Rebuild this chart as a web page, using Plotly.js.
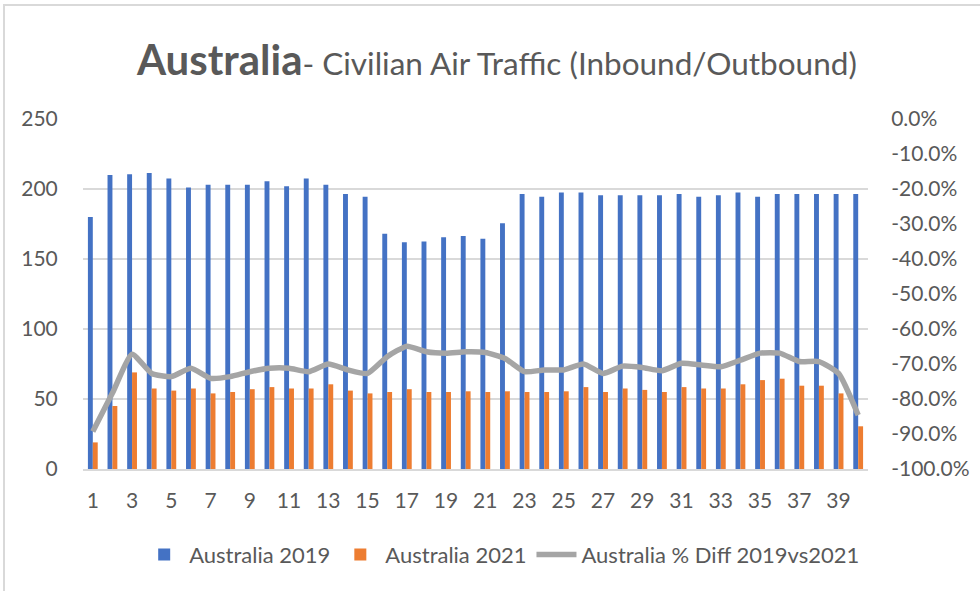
<!DOCTYPE html>
<html>
<head>
<meta charset="utf-8">
<script src="https://cdn.plot.ly/plotly-3.0.1.min.js"></script>
<style>
  html, body { margin: 0; padding: 0; background: #ffffff; }
  #frame { position: absolute; left: 3px; top: 4px; width: 977px; height: 587px;
           border-top: 2px solid #d9d9d9; border-left: 2px solid #d9d9d9; pointer-events: none; }
  #chart { width: 980px; height: 591px; }
</style>
</head>
<body>
<div id="chart"></div>
<div id="frame"></div>
<script>
const categories = Array.from({length: 40}, (_, i) => String(i + 1));
const tickLabels = ["1","3","5","7","9","11","13","15","17","19","21","23","25","27","29","31","33","35","37","39"];
const pctTickVals = [0, -0.1, -0.2, -0.3, -0.4, -0.5, -0.6, -0.7, -0.8, -0.9, -1.0];
const pctTickText = ["0.0%", "-10.0%", "-20.0%", "-30.0%", "-40.0%", "-50.0%", "-60.0%", "-70.0%", "-80.0%", "-90.0%", "-100.0%"];

const traffic2019 = [180, 210, 210.5, 211.5, 207.5, 201, 203, 203, 203, 205.5,
                     202, 207.5, 203, 196.5, 194.5, 168, 162, 162.5, 165.5, 166.5,
                     164.5, 175.5, 196.5, 194.5, 197.5, 197.5, 195.5, 195.5, 195.5, 195.5,
                     196.5, 194.5, 195.5, 197.5, 194.5, 196.5, 196.5, 196.5, 196.5, 196.5];

const traffic2021 = [19, 45, 69, 57.5, 56, 57.5, 54, 55, 57, 58.5,
                     57.5, 57.5, 60.5, 56, 54, 55, 57, 55, 55, 55.5,
                     55, 55.5, 55, 55, 55.5, 58.5, 55, 57.5, 56.5, 55,
                     58.5, 57.5, 57.5, 60.5, 63.5, 64.5, 59.5, 59.5, 54, 30.5];

const pctDiff = [-0.893, -0.783, -0.672, -0.727, -0.736, -0.712, -0.741, -0.736, -0.722, -0.712,
                 -0.712, -0.722, -0.700, -0.717, -0.727, -0.679, -0.649, -0.665, -0.669, -0.665,
                 -0.667, -0.684, -0.722, -0.717, -0.717, -0.700, -0.727, -0.706, -0.710, -0.719,
                 -0.698, -0.703, -0.708, -0.689, -0.669, -0.669, -0.693, -0.693, -0.727, -0.846];

const FONT = "Lato, 'Open Sans', sans-serif";
const TXT = "#595959";

const traces = [
  { type: "bar", name: "Australia 2019", x: categories, y: traffic2019,
    marker: { color: "#4472C4" }, hoverinfo: "skip" },
  { type: "bar", name: "Australia 2021", x: categories, y: traffic2021,
    marker: { color: "#ED7D31" }, hoverinfo: "skip" },
  { type: "scatter", mode: "lines", name: "Australia % Diff 2019vs2021", x: categories, y: pctDiff,
    yaxis: "y2", line: { color: "#A5A5A5", width: 5.5, shape: "spline", smoothing: 0.5 }, hoverinfo: "skip" }
];

const layout = {
  width: 980, height: 591,
  paper_bgcolor: "#ffffff", plot_bgcolor: "#ffffff",
  margin: { l: 83, r: 112, t: 119, b: 122, pad: 0 },
  font: { family: FONT, color: TXT, size: 21 },
  title: {
    text: "<b>Australia</b><span style='font-size:31.5px'>- Civilian Air Traffic (Inbound/Outbound)</span>",
    font: { family: FONT, size: 42, color: TXT },
    x: 0.507, xref: "container", xanchor: "center",
    y: 0.898, yref: "container", yanchor: "middle"
  },
  barmode: "group", bargap: 0.5, bargroupgap: 0,
  xaxis: {
    type: "category", tickmode: "array", tickvals: tickLabels, ticktext: tickLabels,
    showgrid: false, showline: true, linecolor: "#d9d9d9", linewidth: 2,
    ticks: "outside", ticklen: 12, tickcolor: "rgba(0,0,0,0)",
    tickfont: { family: FONT, size: 21, color: TXT }, zeroline: false
  },
  yaxis: {
    range: [0, 250], dtick: 50, tick0: 0,
    showgrid: true, gridcolor: "#d9d9d9", gridwidth: 2, zeroline: false,
    ticks: "outside", ticklen: 20, tickcolor: "rgba(0,0,0,0)",
    tickfont: { family: FONT, size: 21, color: TXT }
  },
  yaxis2: {
    overlaying: "y", side: "right", range: [-1, 0],
    tickmode: "array", tickvals: pctTickVals, ticktext: pctTickText,
    showgrid: false, zeroline: false,
    ticks: "outside", ticklen: 18, tickcolor: "rgba(0,0,0,0)",
    tickfont: { family: FONT, size: 21, color: TXT }
  },
  showlegend: true,
  legend: {
    orientation: "h", x: 0.534, xanchor: "center", y: -0.245, yanchor: "middle",
    font: { family: FONT, size: 22, color: TXT }, itemwidth: 40,
    traceorder: "normal", bgcolor: "rgba(0,0,0,0)"
  }
};

Plotly.newPlot("chart", traces, layout, { displayModeBar: false, staticPlot: true });
</script>
</body>
</html>
